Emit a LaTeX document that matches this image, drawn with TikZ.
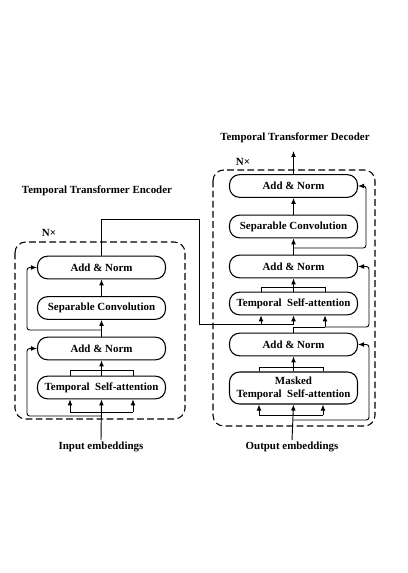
\documentclass[tikz,border=0pt]{standalone}
\usepackage{fontspec}
\setmainfont{Liberation Serif}
\usepackage{tikz}
\usetikzlibrary{arrows.meta}

\begin{document}
\begin{tikzpicture}[x=0.75pt,y=-0.75pt,line width=0.7pt,>={Latex[length=4.5pt,width=3.6pt]},
  blk/.style={draw,line width=0.8pt,rounded corners=7.5pt,minimum width=96pt,minimum height=17pt,inner sep=1pt,font=\bfseries\fontsize{8.2}{9.8}\selectfont},
  lbl/.style={font=\bfseries\fontsize{8.2}{9.8}\selectfont,inner sep=1pt},
  dbox/.style={dash pattern=on 5pt off 2.6pt,rounded corners=8pt,line width=0.8pt},
  res/.style={->,rounded corners=2pt}]
\useasboundingbox (0,0) rectangle (407,573);
% encoder
\node[lbl] (encT) at (97,191) {Temporal Transformer Encoder};
\node[lbl] (encN) at (49,233) {N×};
\draw[dbox] (15,242) rectangle (185,419);
\node[blk] (eTSA) at (101.5,387.5) {Temporal\ \ Self-attention};
\node[blk] (eAN1) at (101.5,348.5) {Add \& Norm};
\node[blk] (eSC) at (101.5,308) {Separable Convolution};
\node[blk] (eAN2) at (101.5,267.5) {Add \& Norm};
\node[lbl] (eIn) at (101,447) {Input embeddings};
\coordinate (eBl) at (70,412);
\coordinate (eBr) at (133,412);
\coordinate (eTl) at (70,370);
\coordinate (eTr) at (133,370);
\coordinate (eR1) at (101.5,416);
\coordinate (eR2) at (101.5,330);
\coordinate (eOut) at (199,219);
\draw[->] (eIn.north) -- (eTSA.south);
\draw (eBl) -- (eBr);
\draw[->] (eBl) -- (eBl |- eTSA.south);
\draw[->] (eBr) -- (eBr |- eTSA.south);
\draw[res] (eR1) -- ++(-74.5,0) |- (eAN1.west);
\draw (eTl |- eTSA.north) -- (eTl) -- (eTr) -- (eTr |- eTSA.north);
\draw[->] (eTSA.north) -- (eAN1.south);
\draw[->] (eAN1.north) -- (eSC.south);
\draw[res] (eR2) -- ++(-74.5,0) |- (eAN2.west);
\draw[->] (eSC.north) -- (eAN2.south);
% decoder
\node[lbl] (decT) at (295,138) {Temporal Transformer Decoder};
\node[lbl] (decN) at (243,162) {N×};
\draw[dbox] (213,170) rectangle (375,426);
\node[blk] (dAN3) at (293.5,186) {Add \& Norm};
\node[blk] (dSC) at (293.5,226.5) {Separable Convolution};
\node[blk] (dAN2) at (293.5,266.5) {Add \& Norm};
\node[blk] (dTSA) at (293.5,303.5) {Temporal\ \ Self-attention};
\node[blk] (dAN1) at (293.5,344.5) {Add \& Norm};
\node[blk,minimum height=24pt,align=center] (dMSA) at (293.5,388) {Masked\\Temporal\ \ Self-attention};
\node[lbl] (dIn) at (292,447) {Output embeddings};
\coordinate (dOut) at (293.5,151);
\coordinate (dBl) at (259,415);
\coordinate (dBr) at (323,415);
\coordinate (dTl) at (259,367);
\coordinate (dTr) at (323,367);
\coordinate (dR1) at (293.5,420);
\coordinate (dQ) at (293.5,327);
\coordinate (dKl) at (261,324);
\coordinate (dKr) at (293.5,324);
\coordinate (dQr) at (325,327);
\coordinate (dUl) at (261,287);
\coordinate (dUr) at (325,287);
\coordinate (dR2) at (293.5,248);
\draw[->] (dIn.north) -- (dMSA.south);
\draw (dBl) -- (dBr);
\draw[->] (dBl) -- (dBl |- dMSA.south);
\draw[->] (dBr) -- (dBr |- dMSA.south);
\draw[res] (dR1) -- ++(75.5,0) |- (dAN1.east);
\draw (dTl |- dMSA.north) -- (dTl) -- (dTr) -- (dTr |- dMSA.north);
\draw[->] (dMSA.north) -- (dAN1.south);
\draw (dAN1.north) -- (dQ) -- (dQr);
\draw[->] (dQr) -- (dQr |- dTSA.south);
\draw[res] (dQr) -- ++(44,0) |- (dAN2.east);
\draw (eAN2.north) -- (eAN2.north |- eOut) -- (eOut) -- (eOut |- dKr) -- (dKr);
\draw[->] (dKl) -- (dKl |- dTSA.south);
\draw[->] (dKr) -- (dTSA.south);
\draw (dUl |- dTSA.north) -- (dUl) -- (dUr) -- (dUr |- dTSA.north);
\draw[->] (dTSA.north) -- (dAN2.south);
\draw[->] (dAN2.north) -- (dSC.south);
\draw[res] (dR2) -- ++(72.5,0) |- (dAN3.east);
\draw[->] (dSC.north) -- (dAN3.south);
\draw[->] (dAN3.north) -- (dOut);
\end{tikzpicture}
\end{document}
